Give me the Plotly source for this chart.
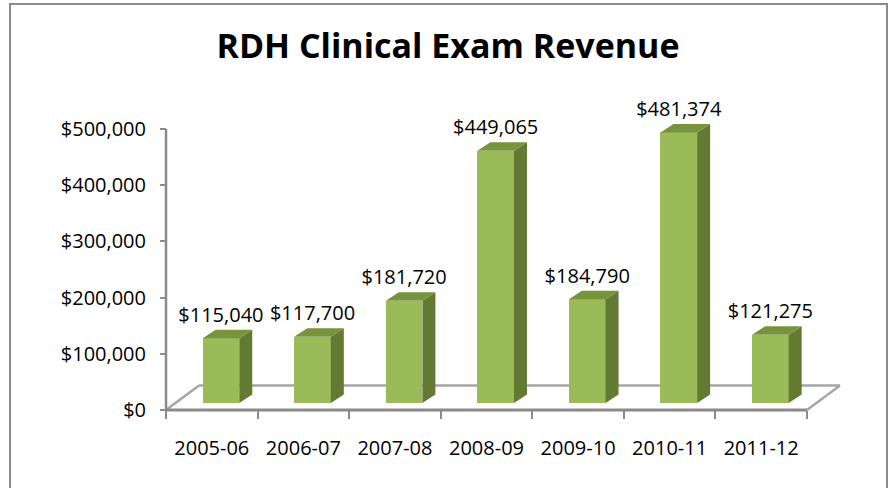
import plotly.graph_objects as go

categories = ["2005-06", "2006-07", "2007-08", "2008-09", "2009-10", "2010-11", "2011-12"]
revenue = [115040, 117700, 181720, 449065, 184790, 481374, 121275]
tick_vals = [0, 100000, 200000, 300000, 400000, 500000]
tick_text = ["$0", "$100,000", "$200,000", "$300,000", "$400,000", "$500,000"]
title_text = "RDH Clinical Exam Revenue"

FONT = "'Open Sans', Lato, sans-serif"
W, H = 896, 488
# plot-area pixel layout
PL, PR, PT, PB = 150, 860, 95, 425
AX_X, AX_Y = 166, 410          # pixel of y axis line / x axis line
AX_TOP = 129                   # pixel of top tick (500k)
KX = (807 - AX_X) / len(categories)  # px per category
SY = (AX_Y - AX_TOP) / tick_vals[-1]  # px per unit value

x_range = [-0.5 - (AX_X - PL) / KX, -0.5 + (PR - AX_X) / KX]
y_range = [-(PB - AX_Y) / SY, (AX_Y - PT) / SY]

# 3D-look geometry (in px, converted to data units)
BASE = 7 / SY
BAR_OFF, BAR_W = -0.1, 0.4
DDX, DDY = 13 / KX, 8.5 / SY
FDX, FDY = 33 / KX, 24.5 / SY
LABEL_GAP = 3 / SY

FRONT, SIDE, TOP = "#9BBB59", "#627A32", "#77933C"
AXC = "#8a8a8a"
FLOORC = "#a6a6a6"

xs = list(range(len(categories)))
fig = go.Figure()

# front faces
fig.add_trace(go.Bar(x=xs, y=revenue, base=BASE, offset=BAR_OFF, width=BAR_W,
                     marker=dict(color=FRONT, line=dict(width=0)), showlegend=False,
                     hoverinfo="skip"))

for x, v in zip(xs, revenue):
    xl, xr = x + BAR_OFF, x + BAR_OFF + BAR_W
    top = BASE + v
    fig.add_trace(go.Scatter(
        x=[xr, xr + DDX, xr + DDX, xr, xr], y=[BASE, BASE + DDY, top + DDY, top, BASE],
        mode="lines", fill="toself", fillcolor=SIDE, line=dict(width=0, color=SIDE),
        hoverinfo="skip", showlegend=False))
    fig.add_trace(go.Scatter(
        x=[xl, xl + DDX, xr + DDX, xr, xl], y=[top, top + DDY, top + DDY, top, top],
        mode="lines", fill="toself", fillcolor=TOP, line=dict(width=0, color=TOP),
        hoverinfo="skip", showlegend=False))

# data labels
fig.add_trace(go.Scatter(
    x=[x + BAR_OFF + BAR_W / 2 for x in xs],
    y=[BASE + v + DDY + LABEL_GAP for v in revenue],
    mode="text", text=["${:,}".format(v) for v in revenue], textposition="top center",
    textfont=dict(family=FONT, size=20, color="#000000"), cliponaxis=False,
    hoverinfo="skip", showlegend=False))

px2paper_x = lambda p: (p - PL) / (PR - PL)
px2paper_y = lambda p: (PB - p) / (PB - PT)

x0f, x1f = -0.5, len(categories) - 0.5
floor_line = dict(color=FLOORC, width=2.5)
shapes = [
    # floor: back edge and sides, below the bars
    dict(type="line", xref="x", yref="y", layer="below", x0=x0f, y0=0, x1=x0f + FDX, y1=FDY,
         line=floor_line),
    dict(type="line", xref="x", yref="y", layer="below", x0=x0f + FDX, y0=FDY, x1=x1f + FDX,
         y1=FDY, line=floor_line),
    dict(type="line", xref="x", yref="y", layer="below", x0=x1f + FDX, y0=FDY, x1=x1f, y1=0,
         line=floor_line),
    # axes
    dict(type="line", xref="x", yref="y", x0=-0.5, x1=-0.5, y0=0, y1=tick_vals[-1],
         line=dict(color=AXC, width=2.5)),
    dict(type="line", xref="x", yref="y", x0=x0f, x1=x1f, y0=0, y1=0,
         line=dict(color=AXC, width=3)),
    # chart-area border
    dict(type="rect", xref="paper", yref="paper",
         x0=px2paper_x(10), x1=px2paper_x(887), y0=px2paper_y(520), y1=px2paper_y(4),
         line=dict(color="#8c8c8c", width=2), fillcolor="rgba(0,0,0,0)"),
]

fig.update_layout(
    width=W, height=H,
    margin=dict(l=PL, r=W - PR, t=PT, b=H - PB, pad=0),
    paper_bgcolor="white", plot_bgcolor="white",
    title=dict(text="<b>" + title_text + "</b>", x=0.5, xref="container", xanchor="center",
               y=1 - 46 / H, yref="container", yanchor="middle",
               font=dict(family=FONT, size=34, color="#000000")),
    shapes=shapes,
    bargap=0,
    hovermode=False,
    xaxis=dict(range=x_range, anchor="free", position=px2paper_y(AX_Y),
               tickvals=xs, ticktext=categories, ticks="", showgrid=False, zeroline=False,
               showline=False, ticklabelstandoff=24,
               tickfont=dict(family=FONT, size=20, color="#000000"),
               minor=dict(tickvals=[x - 0.5 for x in xs] + [x1f], ticks="outside",
                          ticklen=8, tickwidth=2, tickcolor=AXC, showgrid=False)),
    yaxis=dict(range=y_range, anchor="free", position=px2paper_x(AX_X),
               tickvals=tick_vals, ticktext=tick_text, ticks="outside", ticklen=6,
               tickwidth=2, tickcolor=AXC, showgrid=False, zeroline=False, showline=False,
               ticklabelstandoff=10,
               tickfont=dict(family=FONT, size=20, color="#000000")),
)

fig.write_html("out.html", config={"displayModeBar": False},
               post_script="document.body.style.margin='0';")
